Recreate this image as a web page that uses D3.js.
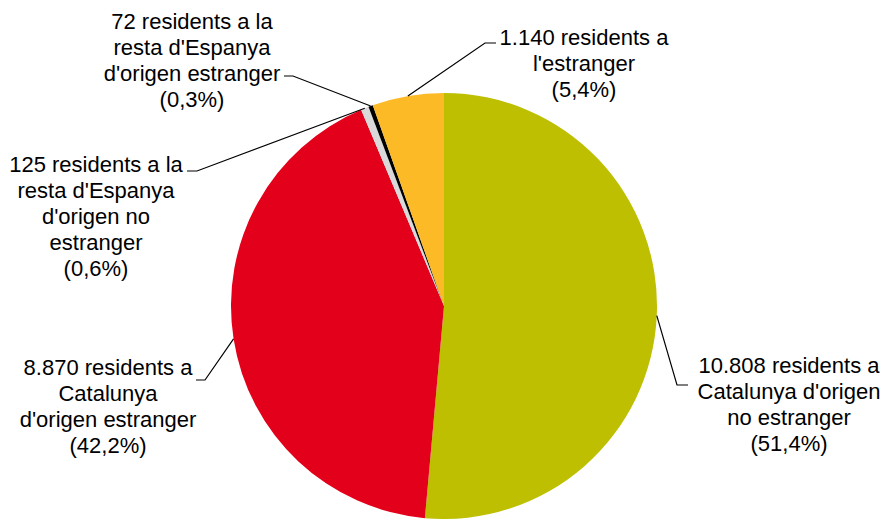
<!DOCTYPE html>
<html>
<head>
<meta charset="utf-8">
<script src="https://cdn.jsdelivr.net/npm/d3@7"></script>
<style>
    body { margin: 0; background: #fff; }
    svg text { font-family: "Liberation Sans", Arial, sans-serif; font-size: 22px; fill: #000; }
</style>
</head>
<body>
<div id="chart"></div>
<script>
// values, in pie order (clockwise from 12 o'clock)
const categories = [
    "residents a Catalunya d'origen no estranger",
    "residents a Catalunya d'origen estranger",
    "residents a la resta d'Espanya d'origen no estranger",
    "residents a la resta d'Espanya d'origen estranger",
    "residents a l'estranger"
];
const values = [10808, 8870, 125, 72, 1140];
const percents = ["51,4%", "42,2%", "0,6%", "0,3%", "5,4%"];
const labelLines = [
    ["10.808 residents a", "Catalunya d'origen", "no estranger", "(51,4%)"],
    ["8.870 residents a", "Catalunya", "d'origen estranger", "(42,2%)"],
    ["125 residents a la", "resta d'Espanya", "d'origen no", "estranger", "(0,6%)"],
    ["72 residents a la", "resta d'Espanya", "d'origen estranger", "(0,3%)"],
    ["1.140 residents a", "l'estranger", "(5,4%)"]
];
const colors = ["#bdbf00", "#e2001a", "#d9d9d9", "#000000", "#fbba26"];

// label layout: text centre, first baseline, leader start & elbow
const labelPos = [
    {x: 789, y: 373, lx: 688, ex: 677, ey: 385},
    {x: 108, y: 375, lx: 196, ex: 205, ey: 380},
    {x: 96,  y: 172, lx: 187, ex: 197, ey: 171},
    {x: 192, y: 29,  lx: 284, ex: 293, ey: 76},
    {x: 584, y: 45,  lx: 496, ex: 485, ey: 43}
];

const width = 885, height = 519,
    cx = 444, cy = 306, radius = 213, lineHeight = 26;

const svg = d3.select("#chart").append("svg")
    .attr("width", width)
    .attr("height", height);

const pie = d3.pie().sort(null).value(d => d)(values);

const arc = d3.arc().innerRadius(0).outerRadius(radius);
const edgeArc = d3.arc().innerRadius(radius).outerRadius(radius);

const g = svg.append("g").attr("transform", `translate(${cx},${cy})`);

g.selectAll("path.slice")
    .data(pie)
    .enter().append("path")
    .attr("class", "slice")
    .attr("d", arc)
    .attr("fill", (d, i) => colors[i]);

// leader lines
svg.append("g")
    .selectAll("path")
    .data(pie)
    .enter().append("path")
    .attr("fill", "none")
    .attr("stroke", "#000")
    .attr("stroke-width", 1.2)
    .attr("d", (d, i) => {
        const p = labelPos[i];
        const c = edgeArc.centroid(d);
        return d3.line()([[p.lx, p.ey], [p.ex, p.ey], [cx + c[0], cy + c[1]]]);
    });

// labels
const labels = svg.append("g")
    .selectAll("text")
    .data(labelLines)
    .enter().append("text")
    .attr("text-anchor", "middle")
    .attr("transform", (d, i) => `translate(${labelPos[i].x},${labelPos[i].y})`);

labels.selectAll("tspan")
    .data(d => d)
    .enter().append("tspan")
    .attr("x", 0)
    .attr("y", (d, j) => j * lineHeight)
    .text(d => d);
</script>
</body>
</html>
